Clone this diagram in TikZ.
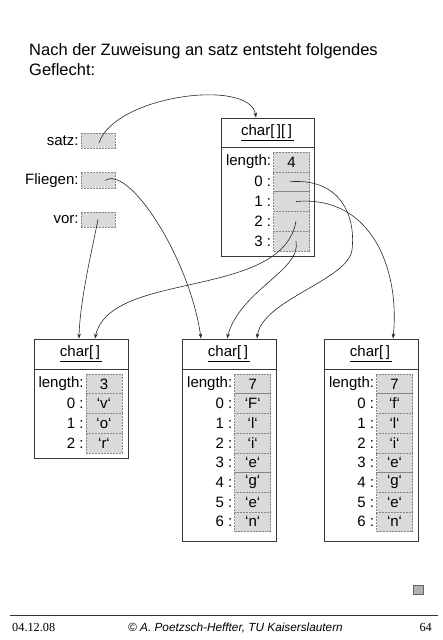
\documentclass[tikz,border=0pt]{standalone}
\usepackage{fontspec}
\setmainfont{Liberation Sans}
\newfontfamily\footserif{Liberation Serif}
\usetikzlibrary{arrows.meta}
\definecolor{cellfill}{RGB}{218,218,218}
\definecolor{celldash}{RGB}{135,135,135}
\definecolor{boxline}{RGB}{55,55,55}
\definecolor{connline}{RGB}{40,40,40}
\begin{document}
\begin{tikzpicture}[x=1pt,y=-1pt,
  cell/.style={draw=celldash, dash pattern=on 2pt off 1pt, fill=cellfill, line width=0.5pt,
    minimum width=36pt, minimum height=19.7pt, inner sep=0pt, font=\fontsize{15}{15}\selectfont},
  varcell/.style={draw=celldash, dash pattern=on 2pt off 1pt, fill=cellfill, line width=0.5pt,
    minimum width=34pt, minimum height=15.3pt, inner sep=0pt},
  lbl/.style={anchor=east, inner sep=1pt, font=\fontsize{15}{15}\selectfont},
  objbox/.style={draw=boxline, line width=0.9pt, minimum width=94pt, inner sep=0pt},
  hdr/.style={inner sep=0pt, font=\fontsize{15}{15}\selectfont},
  conn/.style={draw=connline, line width=0.6pt, -{Stealth[length=5pt,width=3.6pt]}},
  title/.style={anchor=base west, inner sep=0pt, font=\fontsize{16.5}{20}\selectfont}
]
\useasboundingbox (0,0) rectangle (443,640);

% heading
\node[title] (t1) at (29,55) {Nach der Zuweisung an satz entsteht folgendes};
\node[title] (t2) at (29,75) {Geflecht:};

% variables
\node[varcell] (satz) at (98,140.4) {};
\node[varcell] (fl) at (98,180.3) {};
\node[varcell] (vor) at (98,219.5) {};
\node[lbl] (satzl) at ([xshift=-1pt]satz.west) {satz:};
\node[lbl] (fll) at ([xshift=-1pt]fl.west) {Fliegen:};
\node[lbl] (vorl) at ([xshift=-1pt]vor.west) {vor:};

% top object char[][]
\node[objbox, minimum width=93pt, minimum height=138pt] (A) at (267.5,187) {};
\draw[boxline, line width=0.9pt] (A.west |- 0,147) -- (A.east |- 0,147);
\node[hdr] (Ah) at (267.5,132.5) {\underline{char[\,][\,]\hspace{2pt}}};
\foreach \lab/\val [count=\k from 0] in {length:/4,0 :/{},1 :/{},2 :/{},3 :/{}}{
  \node[cell, minimum height=19.8pt] (A-c\k) at (291.5,{161.9+19.8*\k}) {\val};
  \node[lbl] (A-l\k) at ([xshift=-1pt]A-c\k.west) {\lab};
}

% bottom object 1
\node[objbox, minimum height=119pt] (B1) at (81,398.5) {};
\draw[boxline, line width=0.9pt] (B1.west |- 0,369) -- (B1.east |- 0,369);
\node[hdr] (B1h) at (81,354) {\underline{char[\,]\hspace{2pt}}};
\foreach \lab/\val [count=\k from 0] in {length:/3,0 :/‘v‘,1 :/‘o‘,2 :/‘r‘}{
  \node[cell] (B1-c\k) at (104,{383.85+19.7*\k}) {\val};
  \node[lbl] (B1-l\k) at ([xshift=-1pt]B1-c\k.west) {\lab};
}

% bottom object 2
\node[objbox, minimum height=202pt] (B2) at (229,440) {};
\draw[boxline, line width=0.9pt] (B2.west |- 0,369) -- (B2.east |- 0,369);
\node[hdr] (B2h) at (229,354) {\underline{char[\,]\hspace{2pt}}};
\foreach \lab/\val [count=\k from 0] in {length:/7,0 :/‘F‘,1 :/‘l‘,2 :/‘i‘,3 :/‘e‘,4 :/‘g‘,5 :/‘e‘,6 :/‘n‘}{
  \node[cell] (B2-c\k) at (252.7,{383.85+19.7*\k}) {\val};
  \node[lbl] (B2-l\k) at ([xshift=-1pt]B2-c\k.west) {\lab};
}

% bottom object 3
\node[objbox, minimum height=202pt] (B3) at (371,440) {};
\draw[boxline, line width=0.9pt] (B3.west |- 0,369) -- (B3.east |- 0,369);
\node[hdr] (B3h) at (371,354) {\underline{char[\,]\hspace{2pt}}};
\foreach \lab/\val [count=\k from 0] in {length:/7,0 :/‘f‘,1 :/‘l‘,2 :/‘i‘,3 :/‘e‘,4 :/‘g‘,5 :/‘e‘,6 :/‘n‘}{
  \node[cell] (B3-c\k) at (394.5,{383.85+19.7*\k}) {\val};
  \node[lbl] (B3-l\k) at ([xshift=-1pt]B3-c\k.west) {\lab};
}

% connectors
\draw[conn] ([shift={(1pt,-2.5pt)}]satz.center) .. controls (115,95) and (250,78) .. ([xshift=-11.5pt]A.north);
\draw[conn] ([xshift=7pt]fl.center) .. controls (130,165) and (190,260) .. ([xshift=-28pt]B2.north);
\draw[conn] (vor.center) .. controls (92,250) and (80,300) .. ([xshift=-2pt]B1.north);
\draw[conn] ([xshift=4.5pt]A-c3.center) .. controls (282,300) and (110,270) .. ([xshift=14pt]B1.north);
\draw[conn] ([xshift=4.5pt]A-c4.center) .. controls (302,270) and (240,290) .. ([xshift=-2pt]B2.north);
\draw[conn] ([xshift=-1.5pt]A-c1.center) .. controls (340,178) and (356,215) .. (352,250)
  .. controls (348,280) and (262,300) .. ([xshift=28pt]B2.north);
\draw[conn] ([xshift=4.5pt]A-c2.center) .. controls (372,195) and (400,270) .. ([xshift=22pt]B3.north);

% footer
\node[draw=black!60, fill=black!30, line width=0.6pt, minimum width=10pt, minimum height=9pt, inner sep=0pt] (sq) at (418,590) {};
\draw[black!80, line width=0.8pt] (10,615) -- (438,615);
\node[anchor=base west, inner sep=0pt, font=\footserif\fontsize{12.3}{14}\selectfont] (date) at (12,631) {04.12.08};
\node[anchor=base, inner sep=0pt, font=\itshape\fontsize{11.8}{14}\selectfont] (copy) at (235.5,631) {© A. Poetzsch-Heffter, TU Kaiserslautern};
\node[anchor=base east, inner sep=0pt, font=\footserif\fontsize{12.3}{14}\selectfont] (page) at (432,631) {64};
\end{tikzpicture}
\end{document}
